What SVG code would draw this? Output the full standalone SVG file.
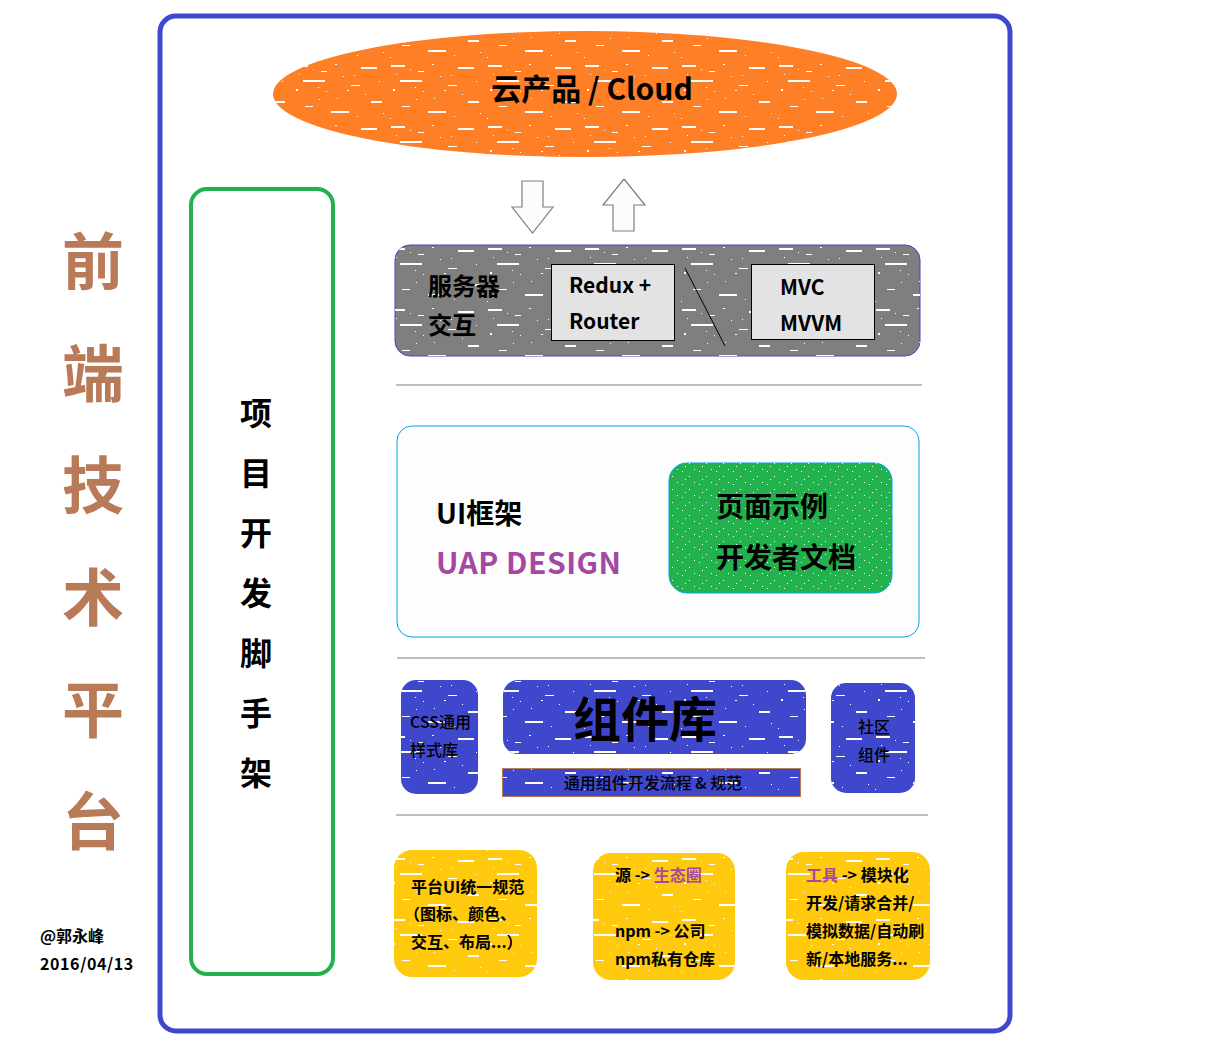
<svg xmlns="http://www.w3.org/2000/svg" width="1206" height="1056" viewBox="0 0 1206 1056">
<style>
text{font-family:"Noto Sans CJK SC","Noto Sans",sans-serif;font-weight:700;fill:#000}
.sep{stroke:#7f7f7f;stroke-width:1}
.arrow{fill:#fcfcfc;stroke:#7f7f7f;stroke-width:1.2}
.blue{fill:#3f48cc}
.yel{fill:#ffc90e}
.purple{fill:#a349a4}
.med{font-weight:500}
.big{fill:#b97a57;font-size:62px}
</style>
<defs>
<pattern id="noise" width="97" height="61" patternUnits="userSpaceOnUse">
<g fill="#fff">
<rect x="3" y="4" width="14" height="2"/>
<rect x="30" y="10" width="6" height="1"/>
<rect x="44" y="3" width="2" height="1"/>
<rect x="12" y="19" width="22" height="2"/>
<rect x="60" y="24" width="9" height="1"/>
<rect x="5" y="28" width="2" height="2"/>
<rect x="22" y="8" width="1" height="1"/>
<rect x="52" y="15" width="1" height="1"/>
<rect x="35" y="30" width="1" height="1"/>
<rect x="8" y="13" width="1" height="1"/>
<rect x="27" y="26" width="1" height="1"/>
<rect x="56" y="29" width="2" height="1"/>
<rect x="70" y="6" width="16" height="2"/>
<rect x="80" y="40" width="11" height="2"/>
<rect x="14" y="45" width="8" height="1"/>
<rect x="40" y="50" width="18" height="2"/>
<rect x="66" y="55" width="1" height="1"/>
<rect x="88" y="20" width="1" height="1"/>
<rect x="46" y="37" width="1" height="1"/>
<rect x="2" y="57" width="1" height="1"/>
<rect x="28" y="38" width="1" height="1"/>
<rect x="74" y="33" width="1" height="1"/>
<rect x="92" y="52" width="1" height="1"/>
<rect x="63" y="14" width="1" height="1"/>
</g>
</pattern>
<pattern id="dots" width="17" height="13" patternUnits="userSpaceOnUse">
<g fill="#fff">
<rect x="2" y="3" width="1" height="1"/>
<rect x="9" y="8" width="1" height="1"/>
<rect x="14" y="1" width="1" height="1"/>
<rect x="5" y="11" width="1" height="1"/>
</g>
</pattern>
</defs>

<g id="frame">
<rect x="160" y="16" width="850" height="1015" rx="16" fill="#fff" stroke="#3f48cc" stroke-width="5"/>
</g>

<g id="title">
<text x="93" y="285" class="big" text-anchor="middle">前</text>
<text x="93" y="397" class="big" text-anchor="middle">端</text>
<text x="93" y="509" class="big" text-anchor="middle">技</text>
<text x="93" y="621" class="big" text-anchor="middle">术</text>
<text x="93" y="733" class="big" text-anchor="middle">平</text>
<text x="93" y="845" class="big" text-anchor="middle">台</text>
</g>

<g id="author">
<text x="40" y="942" font-size="16">@郭永峰</text>
<text x="40" y="970" font-size="16" letter-spacing="0.6">2016/04/13</text>
</g>

<g id="scaffold">
<rect x="191" y="189" width="142" height="785" rx="16" fill="#fff" stroke="#22b14c" stroke-width="4"/>
<text x="256" y="425" font-size="32" text-anchor="middle">项</text>
<text x="256" y="485" font-size="32" text-anchor="middle">目</text>
<text x="256" y="545" font-size="32" text-anchor="middle">开</text>
<text x="256" y="605" font-size="32" text-anchor="middle">发</text>
<text x="256" y="665" font-size="32" text-anchor="middle">脚</text>
<text x="256" y="725" font-size="32" text-anchor="middle">手</text>
<text x="256" y="785" font-size="32" text-anchor="middle">架</text>
</g>

<g id="cloud">
<ellipse cx="585" cy="94" rx="312" ry="63" fill="#ff7f27"/>
<ellipse cx="585" cy="94" rx="312" ry="63" fill="url(#noise)"/>
<text x="592" y="100" font-size="30" text-anchor="middle">云产品 / Cloud</text>
</g>

<g id="connectors">
<polygon class="arrow" points="522,181 543,181 543,207 553,207 532.5,233 512,207 522,207"/>
<polygon class="arrow" points="624,179 645,205 634,205 634,231 613,231 613,205 603,205"/>
<line class="sep" x1="396" y1="385" x2="922" y2="385"/>
<line class="sep" x1="397" y1="658" x2="925" y2="658"/>
<line class="sep" x1="396" y1="815" x2="928" y2="815"/>
</g>

<g id="server">
<rect x="395" y="245" width="525" height="111" rx="15" fill="#7f7f7f" stroke="#3f48cc" stroke-width="1"/>
<rect x="395" y="245" width="525" height="111" rx="15" fill="url(#noise)"/>
<text x="428" y="295" font-size="24">服务器</text>
<text x="428" y="334" font-size="24">交互</text>
<rect x="551.5" y="264.5" width="123" height="76" fill="#e3e3e3" stroke="#000"/>
<text x="569" y="293" font-size="21">Redux +</text>
<text x="569" y="329" font-size="21">Router</text>
<line x1="685" y1="268" x2="725" y2="346" stroke="#000" stroke-width="1"/>
<rect x="751.5" y="264.5" width="123" height="75" fill="#e3e3e3" stroke="#000"/>
<text x="780" y="295" font-size="21">MVC</text>
<text x="780" y="331" font-size="21">MVVM</text>
</g>

<g id="ui">
<rect x="397" y="426" width="522" height="211" rx="15" fill="#fdfdfd" stroke="#00a2e8" stroke-width="1"/>
<text x="436" y="524" font-size="28">UI框架</text>
<text x="436" y="574" font-size="30" class="purple" letter-spacing="0.5">UAP DESIGN</text>
</g>

<g id="docs">
<rect x="669" y="463" width="223" height="130" rx="18" fill="#22b14c" stroke="#00a2e8" stroke-width="1"/>
<rect x="669" y="463" width="223" height="130" rx="18" fill="url(#dots)"/>
<text x="716" y="517" font-size="28">页面示例</text>
<text x="716" y="568" font-size="28">开发者文档</text>
</g>

<g id="css">
<rect x="401" y="680" width="77" height="114" rx="15" class="blue"/>
<rect x="401" y="680" width="77" height="114" rx="15" fill="url(#noise)"/>
<text x="410" y="728" font-size="16" class="med">CSS通用</text>
<text x="410" y="756" font-size="16" class="med">样式库</text>
</g>

<g id="components">
<rect x="503" y="680" width="303" height="74" rx="15" class="blue"/>
<rect x="503" y="680" width="303" height="74" rx="15" fill="url(#noise)"/>
<text x="645" y="737" font-size="48" text-anchor="middle">组件库</text>
</g>

<g id="process">
<rect x="502.5" y="768.5" width="298" height="28" class="blue" stroke="#b97a57" stroke-width="1"/>
<rect x="503" y="769" width="297" height="27" fill="url(#noise)"/>
<text x="653" y="789" font-size="16" text-anchor="middle" class="med">通用组件开发流程 &amp; 规范</text>
</g>

<g id="community">
<rect x="831" y="683" width="84" height="110" rx="15" class="blue"/>
<rect x="831" y="683" width="84" height="110" rx="15" fill="url(#noise)"/>
<text x="858" y="733" font-size="16" class="med">社区</text>
<text x="858" y="761" font-size="16" class="med">组件</text>
</g>

<g id="spec">
<rect x="394" y="850" width="143" height="127" rx="18" class="yel"/>
<rect x="394" y="850" width="143" height="127" rx="18" fill="url(#noise)"/>
<text x="411" y="893" font-size="16">平台UI统一规范</text>
<text x="404" y="920" font-size="16">（图标、颜色、</text>
<text x="411" y="948" font-size="16">交互、布局...）</text>
</g>

<g id="npm">
<rect x="593" y="853" width="142" height="127" rx="18" class="yel"/>
<rect x="593" y="853" width="142" height="127" rx="18" fill="url(#noise)"/>
<text x="615" y="881" font-size="16">源 -&gt; <tspan class="purple">生态圈</tspan></text>
<text x="615" y="937" font-size="16">npm -&gt; 公司</text>
<text x="615" y="965" font-size="16">npm私有仓库</text>
</g>

<g id="tools">
<rect x="786" y="852" width="144" height="128" rx="18" class="yel"/>
<rect x="786" y="852" width="144" height="128" rx="18" fill="url(#noise)"/>
<text x="806" y="881" font-size="16"><tspan class="purple">工具</tspan> -&gt; 模块化</text>
<text x="806" y="909" font-size="16">开发/请求合并/</text>
<text x="806" y="937" font-size="16">模拟数据/自动刷</text>
<text x="806" y="965" font-size="16">新/本地服务...</text>
</g>
</svg>
